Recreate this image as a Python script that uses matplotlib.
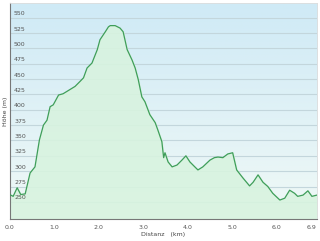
import numpy as np
import matplotlib.pyplot as plt
from matplotlib.colors import LinearSegmentedColormap

# Distanz (km) und Höhe (m)
dist = [0.0, 0.08, 0.17, 0.25, 0.35, 0.46, 0.57, 0.67, 0.76, 0.84, 0.91, 0.98,
        1.1, 1.2, 1.29, 1.47, 1.58, 1.66, 1.74, 1.85, 1.97, 2.03, 2.15, 2.22,
        2.26, 2.37, 2.48, 2.55, 2.64, 2.75, 2.82, 2.89, 2.97, 3.04, 3.15, 3.27,
        3.33, 3.42, 3.46, 3.49, 3.56, 3.65, 3.76, 3.87, 3.96, 4.05, 4.16, 4.23,
        4.34, 4.5, 4.6, 4.68, 4.79, 4.9, 5.01, 5.1, 5.24, 5.39, 5.47, 5.58,
        5.69, 5.8, 5.91, 6.07, 6.18, 6.29, 6.4, 6.47, 6.59, 6.7, 6.79, 6.9]
hoehe = [262, 259, 273, 262, 263, 297, 307, 351, 375, 383, 405, 408,
         424, 426, 430, 438, 446, 452, 468, 476, 498, 514, 527, 535,
         537, 537, 533, 527, 498, 481, 468, 449, 421, 413, 392, 379,
         367, 348, 322, 330, 315, 307, 310, 318, 325, 315, 307, 302,
         307, 318, 322, 323, 322, 328, 330, 302, 289, 276, 282, 294,
         282, 275, 264, 253, 256, 269, 264, 259, 261, 268, 259, 261]

xticks = [0.0, 1.0, 2.0, 3.0, 4.0, 5.0, 6.0, 6.9]
xticklabels = ["0.0", "1.0", "2.0", "3.0", "4.0", "5.0", "6.0", "6.9"]
yticks = [250, 275, 300, 325, 350, 375, 400, 425, 450, 475, 500, 525, 550]

ymin, ymax = 222, 574
xmin, xmax = 0.0, 6.9

fig = plt.figure(figsize=(3.2, 2.41), dpi=100)
ax = fig.add_axes([0.03, 0.091, 0.96, 0.897])

# Hintergrund-Verlauf (oben hellblau, unten fast weiss)
bg = LinearSegmentedColormap.from_list("bg", ["#f0f9f6", "#cfeaf6"])
ax.imshow(np.linspace(0, 1, 256).reshape(-1, 1), cmap=bg, aspect="auto",
          extent=[xmin, xmax, ymin, ymax], origin="lower", zorder=0)

for y in yticks:
    ax.axhline(y, color="#c3d6dc", lw=0.8, zorder=1)
    ax.text(0.1, y + 4, str(y), fontsize=4.5, color="#555555", zorder=3)

ax.fill_between(dist, hoehe, ymin, color="#d8f3df", alpha=0.9, zorder=2)
ax.plot(dist, hoehe, color="#3f9e5a", lw=0.9, zorder=4)

ax.set_xlim(xmin, xmax)
ax.set_ylim(ymin, ymax)
ax.set_yticks([])
ax.set_xticks(xticks)
ax.set_xticklabels(xticklabels, fontsize=4.5, color="#555555")
ax.get_xticklabels()[-1].set_horizontalalignment("right")
ax.tick_params(axis="x", length=0, pad=4)

for s in ["top", "right"]:
    ax.spines[s].set_color("#dddddd")
    ax.spines[s].set_linewidth(0.6)
for s in ["left", "bottom"]:
    ax.spines[s].set_color("#777777")
    ax.spines[s].set_linewidth(0.8)

ax.set_xlabel("Distanz   (km)", fontsize=4.5, color="#444444", labelpad=2)
ax.set_ylabel("Höhe (m)", fontsize=4.5, color="#444444", labelpad=1)

plt.savefig("out.png", dpi=100)
